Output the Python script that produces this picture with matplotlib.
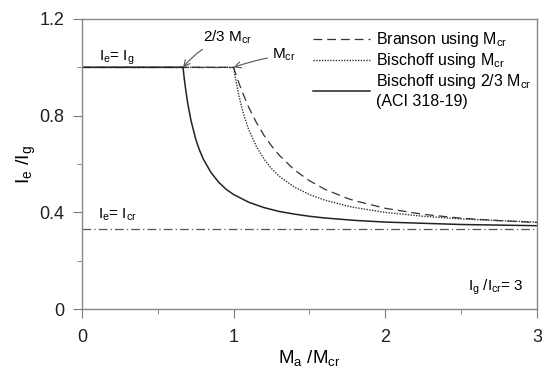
import matplotlib
matplotlib.use("Agg")
import matplotlib.pyplot as plt

plt.rcParams['font.family'] = ['Liberation Sans', 'DejaVu Sans']
plt.rcParams['mathtext.fontset'] = 'custom'
plt.rcParams['mathtext.rm'] = 'Liberation Sans'
plt.rcParams['mathtext.it'] = 'Liberation Sans'

# values (Ig/Icr = 3)
x_branson = [0, 1.0, 1.02, 1.05, 1.1, 1.15, 1.2, 1.25, 1.3, 1.4, 1.5, 1.6, 1.75, 1.8,
             2.0, 2.25, 2.5, 2.75, 3.0]
y_branson = [1.0, 1.0, 0.962, 0.909, 0.834, 0.772, 0.719, 0.675, 0.637, 0.576, 0.531,
             0.496, 0.458, 0.448, 0.417, 0.392, 0.376, 0.366, 0.358]

x_bisch = [0, 1.0, 1.01, 1.02, 1.03, 1.05, 1.07, 1.1, 1.15, 1.2, 1.25, 1.3, 1.4, 1.5,
           1.6, 1.75, 1.8, 2.0, 2.25, 2.5, 2.75, 3.0]
y_bisch = [1.0, 1.0, 0.962, 0.93, 0.897, 0.843, 0.798, 0.742, 0.673, 0.621, 0.581,
           0.550, 0.505, 0.474, 0.451, 0.426, 0.420, 0.400, 0.384, 0.373, 0.366, 0.360]

x_aci = [0, 0.667, 0.67, 0.675, 0.68, 0.69, 0.7, 0.72, 0.75, 0.775, 0.8, 0.85, 0.9,
         0.95, 1.0, 1.1, 1.2, 1.3, 1.4, 1.5, 1.6, 1.8, 2.0, 2.5, 3.0]
y_aci = [1.0, 1.0, 0.981, 0.953, 0.928, 0.883, 0.843, 0.778, 0.704, 0.658, 0.621,
         0.566, 0.526, 0.496, 0.474, 0.442, 0.420, 0.404, 0.393, 0.384, 0.377, 0.367,
         0.360, 0.350, 0.345]

ie_ig = 1.0
ie_icr = 1 / 3

fig = plt.figure(figsize=(5.42, 3.72), dpi=100)
ax = fig.add_axes([0.151, 0.169, 0.84, 0.78])

gray = '#555555'
ax.plot([0, 1.0], [ie_ig, ie_ig], color=gray, lw=0.9, dashes=(7, 2.5, 1, 2.5))
ax.plot([0, 3], [ie_icr, ie_icr], color=gray, lw=0.9, dashes=(7, 2.5, 1, 2.5))

ax.plot(x_branson, y_branson, color='#333333', lw=0.9, dashes=(7, 4),
        label='Branson using M$_{cr}$')
ax.plot(x_bisch, y_bisch, color='#333333', lw=1.0, ls=(0, (1, 1)),
        label='Bischoff using M$_{cr}$')
ax.plot(x_aci, y_aci, color='#222222', lw=1.1,
        label='Bischoff using 2/3 M$_{cr}$\n(ACI 318-19)')

ax.set_xlim(0, 3)
ax.set_ylim(0, 1.2)
ax.set_xticks([0, 1, 2, 3])
ax.set_xticks([0.5, 1.5, 2.5], minor=True)
ax.set_yticks([0, 0.4, 0.8, 1.2])
ax.set_yticklabels(['0', '0.4', '0.8', '1.2'])
ax.set_yticks([0.2, 0.6, 1.0], minor=True)
ax.tick_params(which='both', direction='out', color='#777777', labelsize=13, labelcolor='#222222')
ax.tick_params(which='major', length=6.5)
ax.tick_params(which='minor', length=3.6)
ax.tick_params(axis='x', which='major', pad=8)
ax.tick_params(axis='y', which='major', pad=6)
for s in ax.spines.values():
    s.set_color('#888888')
    s.set_linewidth(1.0)

ax.set_xlabel('M$_a$ /M$_{cr}$', fontsize=13.5, labelpad=1)
ax.set_ylabel('I$_e$ /I$_g$', fontsize=14, labelpad=1)

ax.text(0.11, 1.04, 'I$_e$= I$_g$', fontsize=11, va='center')
ax.text(0.105, 0.39, 'I$_e$= I$_{cr}$', fontsize=11, va='center')
ax.text(2.91, 0.09, 'I$_g$ /I$_{cr}$= 3', fontsize=11, ha='right', va='center')
ax.annotate('2/3 M$_{cr}$', xy=(0.667, 1.0), xytext=(0.8, 1.125), fontsize=11,
            va='center',
            arrowprops=dict(arrowstyle='->', color='#555555', lw=0.8,
                            shrinkA=1, shrinkB=0,
                            connectionstyle='arc3,rad=0.15'))
ax.annotate('M$_{cr}$', xy=(1.0, 1.0), xytext=(1.25, 1.05), fontsize=11,
            va='center',
            arrowprops=dict(arrowstyle='->', color='#555555', lw=0.8,
                            shrinkA=1, shrinkB=0,
                            connectionstyle='arc3,rad=0.05'))

ax.legend(loc='upper right', frameon=False, fontsize=11.5, handlelength=3.6,
          handletextpad=0.4, labelspacing=0.12, bbox_to_anchor=(1.02, 1.01))

fig.savefig('out.png', dpi=100)
